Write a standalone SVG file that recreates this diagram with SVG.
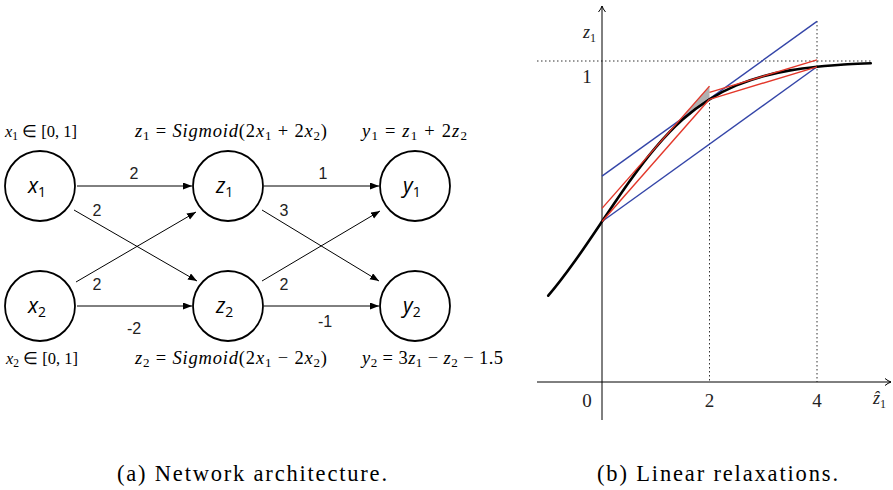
<svg xmlns="http://www.w3.org/2000/svg" width="893" height="490" viewBox="0 0 893 490">
<style>
.node circle{fill:#fff;stroke:#000;stroke-width:1.8}
.nl{font-family:"Open Sans","DejaVu Sans",sans-serif;font-style:italic;font-size:21px;fill:#000}
.nl .s{font-size:14px;font-style:normal}
.edge{stroke:#000;stroke-width:1;fill:none;marker-end:url(#ah)}
.el{font-family:"Liberation Sans",Arial,sans-serif;font-size:16px;fill:#222;text-anchor:middle}
.m{font-family:"Liberation Serif","Times New Roman",serif;font-size:18.5px;fill:#000}
.i{font-style:italic}
.s{font-size:13px}
.dot{stroke:#333;stroke-width:1;stroke-dasharray:1.5,2.5;fill:none}
.blue{stroke:#3445a8;stroke-width:1.4;fill:none}
.red{stroke:#e3372a;stroke-width:1.4;fill:none}
.ax{stroke:#000;stroke-width:1;fill:none}
.tk{font-family:"Liberation Serif","Times New Roman",serif;font-size:19px;fill:#222;text-anchor:middle}
.cap{font-family:"Liberation Serif","Times New Roman",serif;font-size:22.5px;fill:#000}
</style>
<defs>
<marker id="ah" markerUnits="userSpaceOnUse" markerWidth="10" markerHeight="8" refX="9" refY="3.5" orient="auto">
<path d="M0,0 L9,3.5 L0,7 z" fill="#000"/>
</marker>
<marker id="ax" markerUnits="userSpaceOnUse" markerWidth="10" markerHeight="10" refX="7" refY="4" orient="auto">
<path d="M1,0.5 Q4,3 7,4 Q4,5 1,7.5" fill="none" stroke="#000" stroke-width="1"/>
</marker>
</defs>

<!-- left: network -->
<g id="edges">
<line class="edge" x1="77" y1="186" x2="192" y2="186"/>
<line class="edge" x1="74" y1="210" x2="197" y2="281"/>
<line class="edge" x1="76" y1="282" x2="196" y2="212"/>
<line class="edge" x1="77" y1="306" x2="192" y2="306"/>
<line class="edge" x1="264" y1="186" x2="379" y2="186"/>
<line class="edge" x1="262" y1="210" x2="379" y2="281"/>
<line class="edge" x1="262" y1="281" x2="380" y2="211"/>
<line class="edge" x1="264" y1="306" x2="379" y2="306"/>
<text class="el" x="134" y="179">2</text>
<text class="el" x="97" y="216">2</text>
<text class="el" x="97" y="290">2</text>
<text class="el" x="134" y="334">-2</text>
<text class="el" x="323" y="179">1</text>
<text class="el" x="284" y="216">3</text>
<text class="el" x="284" y="290">2</text>
<text class="el" x="325" y="327">-1</text>
</g>
<g id="x1" class="node"><circle cx="40" cy="186" r="35"/><text class="nl" x="28" y="193">x<tspan class="s" dy="4">1</tspan></text></g>
<g id="z1" class="node"><circle cx="228" cy="186" r="35"/><text class="nl" x="216" y="193">z<tspan class="s" dy="4">1</tspan></text></g>
<g id="y1" class="node"><circle cx="415" cy="186" r="35"/><text class="nl" x="403" y="193">y<tspan class="s" dy="4">1</tspan></text></g>
<g id="x2" class="node"><circle cx="40" cy="306" r="35"/><text class="nl" x="28" y="313">x<tspan class="s" dy="4">2</tspan></text></g>
<g id="z2" class="node"><circle cx="228" cy="306" r="35"/><text class="nl" x="216" y="313">z<tspan class="s" dy="4">2</tspan></text></g>
<g id="y2" class="node"><circle cx="415" cy="306" r="35"/><text class="nl" x="403" y="313">y<tspan class="s" dy="4">2</tspan></text></g>

<g id="math">
<text class="m" x="5" y="137" style="font-size:16.5px"><tspan class="i">x</tspan><tspan class="s" dy="3" style="font-size:11.5px">1</tspan><tspan dy="-3"> ∈ [0, 1]</tspan></text>
<text class="m" x="135" y="137" textLength="192" lengthAdjust="spacing"><tspan class="i">z</tspan><tspan class="s" dy="3">1</tspan><tspan dy="-3"> = </tspan><tspan class="i">Sigmoid</tspan>(2<tspan class="i">x</tspan><tspan class="s" dy="3">1</tspan><tspan dy="-3"> + 2</tspan><tspan class="i">x</tspan><tspan class="s" dy="3">2</tspan><tspan dy="-3">)</tspan></text>
<text class="m" x="362" y="137" textLength="105" lengthAdjust="spacing"><tspan class="i">y</tspan><tspan class="s" dy="3">1</tspan><tspan dy="-3"> = </tspan><tspan class="i">z</tspan><tspan class="s" dy="3">1</tspan><tspan dy="-3"> + 2</tspan><tspan class="i">z</tspan><tspan class="s" dy="3">2</tspan></text>
<text class="m" x="6" y="364" style="font-size:16.5px"><tspan class="i">x</tspan><tspan class="s" dy="3" style="font-size:11.5px">2</tspan><tspan dy="-3"> ∈ [0, 1]</tspan></text>
<text class="m" x="135" y="364" textLength="192" lengthAdjust="spacing"><tspan class="i">z</tspan><tspan class="s" dy="3">2</tspan><tspan dy="-3"> = </tspan><tspan class="i">Sigmoid</tspan>(2<tspan class="i">x</tspan><tspan class="s" dy="3">1</tspan><tspan dy="-3"> − 2</tspan><tspan class="i">x</tspan><tspan class="s" dy="3">2</tspan><tspan dy="-3">)</tspan></text>
<text class="m" x="362" y="364" textLength="141" lengthAdjust="spacing"><tspan class="i">y</tspan><tspan class="s" dy="3">2</tspan><tspan dy="-3"> = 3</tspan><tspan class="i">z</tspan><tspan class="s" dy="3">1</tspan><tspan dy="-3"> − </tspan><tspan class="i">z</tspan><tspan class="s" dy="3">2</tspan><tspan dy="-3"> − 1.5</tspan></text>
</g>

<!-- right: plot -->
<g id="plot">
<line class="dot" x1="537" y1="61" x2="873" y2="61"/>
<line class="dot" x1="709.5" y1="99" x2="709.5" y2="382"/>
<line class="dot" x1="817" y1="21" x2="817" y2="382"/>
<line class="ax" x1="537" y1="382" x2="891" y2="382" marker-end="url(#ax)"/>
<line class="ax" x1="602" y1="420" x2="602" y2="6" marker-end="url(#ax)"/>
<polygon points="679.2,120.6 709.5,86.1 709.5,98.8" fill="#b0b0b0"/>
<line class="blue" x1="602" y1="221.5" x2="817" y2="66.8"/>
<line class="blue" x1="602" y1="176.1" x2="817" y2="21.4"/>
<path d="M548.25,295.7 C557.2,285.2 566.1,273.4 575.1,260.8 C584.1,248.2 593,234.9 602,221.5 C611,208.1 619.9,194.8 628.9,182.2 C637.9,169.6 646.8,157.8 655.75,147.3 C664.7,136.8 673.6,127.5 682.6,119.5 C691.6,111.5 700.5,104.9 709.5,99.3 C718.5,93.7 727.4,89.2 736.4,85.4 C745.4,81.7 754.3,78.6 763.25,76.2 C772.2,73.8 781.1,71.9 790.1,70.4 C799.1,68.9 808,67.8 817,66.8 C826,65.9 834.9,65.1 843.9,64.5 C852.9,63.9 861.8,63.6 870.75,63.2" fill="none" stroke="#000" stroke-width="2.6" stroke-linecap="round"/>
<line class="red" x1="602" y1="221.5" x2="709.5" y2="99.3"/>
<line class="red" x1="602" y1="208.4" x2="709.5" y2="86.1"/>
<line class="red" x1="709.5" y1="99.3" x2="817" y2="66.8"/>
<line class="red" x1="709.5" y1="92.4" x2="817" y2="59.9"/>
<text class="m" x="583" y="38" style="font-size:18px;fill:#222"><tspan class="i">z</tspan><tspan class="s" dy="4" style="font-size:12px">1</tspan></text>
<text class="tk" x="587" y="83">1</text>
<text class="tk" x="587" y="407">0</text>
<text class="tk" x="709.5" y="407">2</text>
<text class="tk" x="817" y="407">4</text>
<text class="m" x="873" y="404" style="font-size:18px;fill:#222"><tspan class="i">ẑ</tspan><tspan class="s" dy="4" style="font-size:12px">1</tspan></text>
</g>

<text class="cap" x="117" y="481" textLength="270" lengthAdjust="spacing">(a) Network architecture.</text>
<text class="cap" x="597" y="481" textLength="241" lengthAdjust="spacing">(b) Linear relaxations.</text>
</svg>
